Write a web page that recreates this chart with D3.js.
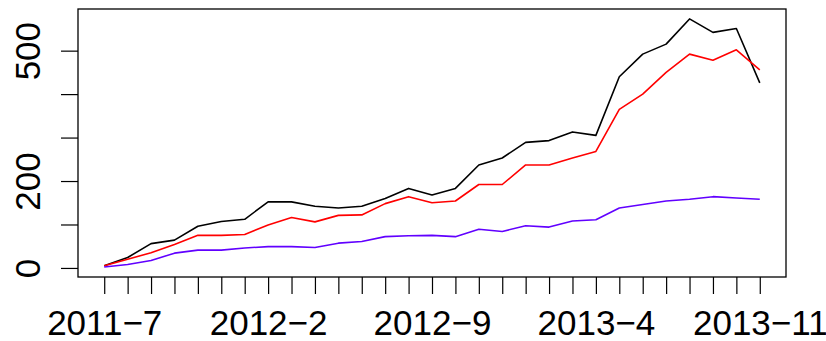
<!DOCTYPE html>
<html>
<head>
<meta charset="utf-8">
<script src="https://cdn.jsdelivr.net/npm/d3@7"></script>
<style>
html,body{margin:0;padding:0;background:#fff;}
svg{display:block;}
</style>
</head>
<body>
<svg id="chart" width="826" height="341"></svg>
<script>
const months = ["2011-7","2011-8","2011-9","2011-10","2011-11","2011-12","2012-1","2012-2","2012-3","2012-4","2012-5","2012-6","2012-7","2012-8","2012-9","2012-10","2012-11","2012-12","2013-1","2013-2","2013-3","2013-4","2013-5","2013-6","2013-7","2013-8","2013-9","2013-10","2013-11"];
const seriesBlack  = [5,24,56,64,96,107,112,152,152,142,138,142,160,183,168,183,237,253,289,293,313,305,440,492,515,573,542,551,426];
const seriesRed    = [5,20,35,54,75,75,77,99,116,106,121,122,148,164,150,154,192,192,237,237,253,268,365,400,450,492,478,502,456];
const seriesPurple = [2,8,17,34,41,41,46,49,49,47,57,61,72,74,75,72,89,84,97,94,108,111,138,146,154,158,164,161,158];
const xTickLabels = {"2011-7":"2011\u22127","2012-2":"2012\u22122","2012-9":"2012\u22129","2013-4":"2013\u22124","2013-11":"2013\u221211"};
const yTicks = [0,100,200,300,400,500];
const yTickLabels = {0:"0",200:"200",500:"500"};

const series = [
  {values: seriesBlack, color: "#000000"},
  {values: seriesRed, color: "#ff0000"},
  {values: seriesPurple, color: "#6100ff"}
];

const svg = d3.select("#chart");
const L = 78, R = 786, T = 9, B = 277;

const n = months.length;
const xPad = 0.04 * (n - 1);
const x = d3.scaleLinear().domain([-xPad, n - 1 + xPad]).range([L, R]);
const allVals = seriesBlack.concat(seriesRed, seriesPurple);
const yMin = d3.min(allVals), yMax = d3.max(allVals);
const yPad = 0.04 * (yMax - yMin);
const y = d3.scaleLinear().domain([yMin - yPad, yMax + yPad]).range([B, T]);

const font = "'Liberation Sans', Arial, Helvetica, sans-serif";

// lines
const line = d3.line().x((d, i) => x(i)).y(d => y(d));
series.forEach(s => {
  svg.append("path")
    .datum(s.values)
    .attr("fill", "none")
    .attr("stroke", s.color)
    .attr("stroke-width", 1.6)
    .attr("stroke-linejoin", "round")
    .attr("d", line);
});

// box
svg.append("rect")
  .attr("x", L).attr("y", T).attr("width", R - L).attr("height", B - T)
  .attr("fill", "none").attr("stroke", "#000").attr("stroke-width", 1.3);

// x axis
const xAxis = d3.axisBottom(x)
  .tickValues(d3.range(n))
  .tickSize(17)
  .tickSizeOuter(0)
  .tickFormat(i => xTickLabels[months[i]] || "");
const gx = svg.append("g").attr("transform", `translate(0,${B})`).call(xAxis);
gx.select(".domain").remove();
gx.selectAll(".tick line").attr("stroke", "#000").attr("stroke-width", 1.2);
gx.selectAll(".tick text")
  .attr("y", 58).attr("dy", 0)
  .attr("fill", "#000")
  .style("font-family", font).style("font-size", "35px");

// y axis
const yAxis = d3.axisLeft(y)
  .tickValues(yTicks)
  .tickSize(17)
  .tickSizeOuter(0)
  .tickFormat(v => yTickLabels[v] || "");
const gy = svg.append("g").attr("transform", `translate(${L},0)`).call(yAxis);
gy.select(".domain").remove();
gy.selectAll(".tick line").attr("stroke", "#000").attr("stroke-width", 1.2);
gy.selectAll(".tick text")
  .attr("x", 0).attr("y", 0).attr("dy", 0)
  .attr("text-anchor", "middle")
  .attr("transform", "translate(-38,0) rotate(-90)")
  .attr("fill", "#000")
  .style("font-family", font).style("font-size", "35px");
</script>
</body>
</html>
